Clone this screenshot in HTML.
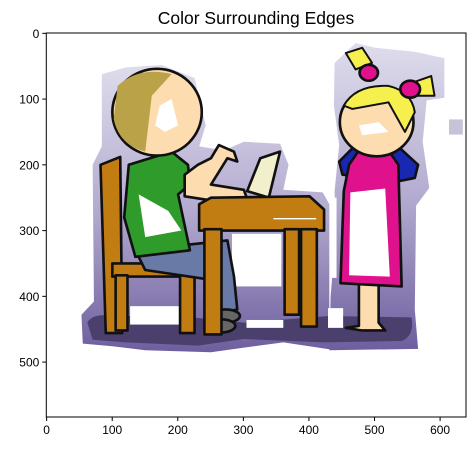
<!DOCTYPE html>
<html><head><meta charset="utf-8"><style>
html,body{margin:0;padding:0;background:#fff;}
svg{display:block;font-family:"Liberation Sans","DejaVu Sans",sans-serif;}
</style></head><body>
<svg id="chart" width="474" height="451" viewBox="0 0 474 451">
<defs>
<linearGradient id="halo" x1="0" y1="0" x2="0" y2="1">
<stop offset="0" stop-color="#dedcec"/><stop offset="0.5" stop-color="#b4acd0"/><stop offset="1" stop-color="#6e5e9e"/>
</linearGradient>
<clipPath id="axclip"><rect x="46.3" y="33" width="419.7" height="384"/></clipPath>
</defs>
<text x="256" y="24" text-anchor="middle" font-size="17.5" fill="#000">Color Surrounding Edges</text>
<g clip-path="url(#axclip)">
<g id="img" transform="translate(46.6,33.3) scale(0.6575)" stroke-linejoin="round">
 <path fill="url(#halo)" d="M84,62 L120,52 L175,48 L225,68 L242,140 L232,172 L270,178 L300,165 L355,168 L368,200 L360,238 L420,242 L430,260 L430,420 L440,420 L440,482 L360,470 L300,478 L250,485 L150,482 L100,476 L55,472 L53,428 L72,408 L70,200 L84,172 Z"/>
 <path fill="url(#halo)" d="M438,45 L470,15 L500,22 L560,28 L605,38 L605,98 L578,102 L572,165 L582,235 L562,262 L560,420 L565,480 L430,482 L432,400 L440,300 L438,240 L445,170 L437,110 Z"/>
 <rect x="431" y="250" width="10" height="122" fill="#fff"/>
 <rect x="612" y="131" width="21" height="23" fill="#c6c2d8"/>
 <path fill="#4b3f6e" d="M62,440 Q70,425 100,430 L200,430 L300,440 L430,430 L555,432 Q560,460 540,468 L420,470 L300,465 L230,475 L120,470 L70,466 Z"/>
 <rect x="127" y="415" width="96" height="28" fill="#fff"/>
 <rect x="304" y="436" width="56" height="12" fill="#fff"/>
 <rect x="282" y="305" width="75" height="80" fill="#fff"/>
 <rect x="428" y="418" width="23" height="30" fill="#fff"/>
 <g fill="#c27d12" stroke="#111" stroke-width="4">
  <path d="M82,200 L112,188 L115,456 L90,456 Z"/>
  <rect x="100" y="350" width="135" height="20"/>
  <rect x="105" y="368" width="18" height="84"/>
  <rect x="203" y="368" width="22" height="88"/>
 </g>
 <g stroke="#111" stroke-width="4">
  <path fill="#6a7aa6" d="M135,330 L275,315 L285,370 L290,420 L268,425 L250,375 L150,360 Z"/>
  <ellipse cx="272" cy="430" rx="22" ry="10" fill="#666"/>
  <ellipse cx="265" cy="445" rx="22" ry="10" fill="#666"/>
  <path fill="#2e9b2a" d="M125,200 L190,180 L215,200 L218,230 L200,245 L218,330 L135,340 L118,280 Z"/>
  <path fill="#fff" stroke="none" d="M140,245 L185,270 L205,300 L150,310 Z"/>
  <path fill="#fddcb0" d="M210,215 L230,200 L250,190 L262,170 L285,180 L290,195 L275,190 L250,230 L300,238 L305,252 L255,255 L210,248 Z"/>
  <path fill="#f2f0cc" d="M305,240 L325,190 L355,180 L338,250 Z"/>
  <ellipse cx="168" cy="120" rx="68" ry="66" fill="#fddcb0"/>
  <path fill="#b9a247" stroke="none" d="M108,80 Q140,50 190,62 L160,95 L150,180 Q110,170 102,130 Z"/>
  <path fill="#fff" stroke="none" d="M172,110 L190,100 L200,140 L180,150 L165,140 Z"/>
 </g>
 <g fill="#c27d12" stroke="#111" stroke-width="4">
  <path d="M232,260 L250,250 L400,248 L422,268 L422,300 L232,300 Z"/>
  <rect x="240" y="298" width="26" height="160"/>
  <rect x="362" y="298" width="22" height="130"/>
  <rect x="387" y="298" width="24" height="148"/>
  <line x1="345" y1="282" x2="410" y2="282" stroke="#fff" stroke-width="2"/>
 </g>
 <g stroke="#111" stroke-width="4">
  <path fill="#fddcb0" d="M475,380 L475,445 L455,448 L480,452 L515,452 L505,440 L505,380 Z"/>
  <path fill="#1828b0" d="M445,195 L470,170 L530,168 L565,200 L560,220 L535,225 L450,215 Z"/>
  <path fill="#e0118c" d="M460,200 L475,178 L520,178 L535,200 L540,385 L447,380 L452,240 Z"/>
  <path fill="#fff" stroke="none" d="M462,242 L515,236 L522,370 L460,368 Z"/>
  <ellipse cx="502" cy="135" rx="56" ry="52" fill="#fddcb0"/>
  <path fill="#f6f04e" stroke-width="3" d="M452,110 Q470,78 520,80 Q555,88 560,120 L545,150 L520,105 L465,115 Z"/>
  <path fill="#f6f04e" stroke-width="3" d="M455,30 L480,22 L495,45 L470,55 Z"/>
  <path fill="#f6f04e" stroke-width="3" d="M548,78 L585,65 L590,95 L560,95 Z"/>
  <ellipse cx="490" cy="60" rx="14" ry="12" fill="#e0118c"/>
  <ellipse cx="553" cy="85" rx="15" ry="13" fill="#e0118c"/>
  <path fill="#fff" stroke="none" d="M475,140 L505,135 L520,150 L480,155 Z"/>
 </g>
</g>
</g>
<rect x="46.3" y="33" width="419.7" height="384" fill="none" stroke="#000" stroke-width="1"/>
<g id="xticks"></g>
<g id="yticks"></g>
<script>
const xTickValues = [0, 100, 200, 300, 400, 500, 600];
const yTickValues = [0, 100, 200, 300, 400, 500];
const xDomain = [-0.5, 639.5];
const yDomain = [-0.5, 583.5];
const L = 46.3, R = 466, T = 33, B = 417;
function xs(v){ return L + (v - xDomain[0]) / (xDomain[1] - xDomain[0]) * (R - L); }
function ys(v){ return T + (v - yDomain[0]) / (yDomain[1] - yDomain[0]) * (B - T); }
const NS = "http://www.w3.org/2000/svg";
const xg = document.getElementById('xticks'), yg = document.getElementById('yticks');
xTickValues.forEach(v => {
  const x = xs(v);
  const l = document.createElementNS(NS, 'line');
  l.setAttribute('x1', x); l.setAttribute('x2', x); l.setAttribute('y1', B); l.setAttribute('y2', B + 4);
  l.setAttribute('stroke', '#000');
  
  
  xg.appendChild(l);
  const t = document.createElementNS(NS, 'text');
  t.setAttribute('x', x); t.setAttribute('y', B + 17); t.setAttribute('text-anchor', 'middle');
  t.setAttribute('font-size', '12');
  t.textContent = v;
  
  
  xg.appendChild(t);
});
yTickValues.forEach(v => {
  const y = ys(v);
  const l = document.createElementNS(NS, 'line');
  l.setAttribute('x1', L - 4); l.setAttribute('x2', L); l.setAttribute('y1', y); l.setAttribute('y2', y);
  l.setAttribute('stroke', '#000');
  
  
  yg.appendChild(l);
  const t = document.createElementNS(NS, 'text');
  t.setAttribute('x', L - 7); t.setAttribute('y', y + 4.5); t.setAttribute('text-anchor', 'end');
  t.setAttribute('font-size', '12');
  t.textContent = v;
  
  
  yg.appendChild(t);
});
</script>
</svg>
</body></html>
